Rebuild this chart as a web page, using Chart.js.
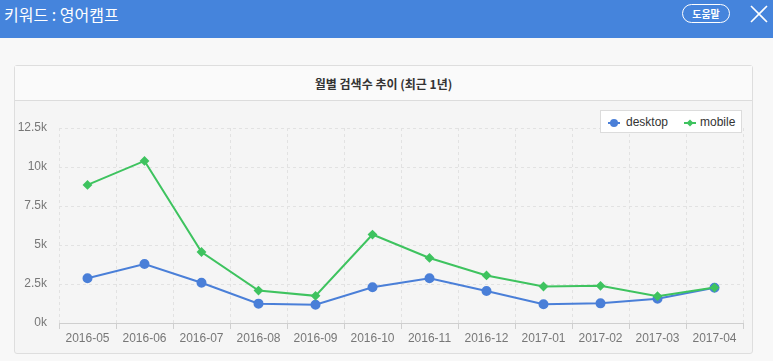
<!DOCTYPE html>
<html>
<head>
<meta charset="utf-8">
<script src="https://cdn.jsdelivr.net/npm/chart.js@4/dist/chart.umd.min.js"></script>
<style>
  html, body { margin:0; padding:0; width:773px; height:361px; overflow:hidden; background:#f8f8f8; font-family:"Noto Sans CJK KR","Liberation Sans",sans-serif; }
  #header { position:absolute; left:0; top:0; width:773px; height:38px; background:#4584dc; }
  #header .kw { position:absolute; left:4px; top:4px; color:#fff; font-size:16px; line-height:21px; }
  #header .help { position:absolute; left:682px; top:4px; width:46px; height:17px; border:1px solid #fff; border-radius:10px; color:#fff; font-size:10px; font-weight:bold; text-align:center; line-height:17px; }
  #header .close { position:absolute; left:748px; top:4px; width:22px; height:20px; }
  #panel { position:absolute; left:14px; top:65px; width:737px; height:287px; border:1px solid #dedede; border-radius:3px; background:#f5f5f5; }
  #ptitle { position:absolute; left:0; top:0; width:737px; height:34px; background:#fafafa; border-bottom:1px solid #dcdcdc; text-align:center; font-size:12px; font-weight:bold; color:#333; line-height:36px; }
  #cv { position:absolute; left:0; top:0; }
  #legend { position:absolute; left:600px; top:110px; width:140px; height:21px; background:#fff; border:1px solid #dcdcdc; font-family:"Liberation Sans",Arial,sans-serif; font-size:12px; color:#333; }
  #legend .item { position:absolute; top:4px; height:15px; line-height:15px; }
  #legend svg { position:absolute; left:0; top:2px; }
</style>
</head>
<body>
<div id="header">
  <div class="kw">키워드 : 영어캠프</div>
  <div class="help">도움말</div>
  <svg class="close" width="22" height="20"><path d="M3 2 L19 18 M19 2 L3 18" stroke="#fff" stroke-width="1.6" fill="none"/></svg>
</div>
<div id="panel"><div id="ptitle">월별 검색수 추이 (최근 1년)</div></div>
<canvas id="cv" width="773" height="361"></canvas>
<div id="legend"></div>
<script>
const months = ["2016-05","2016-06","2016-07","2016-08","2016-09","2016-10","2016-11","2016-12","2017-01","2017-02","2017-03","2017-04"];
const desktop = [2870, 3780, 2580, 1240, 1170, 2290, 2870, 2050, 1200, 1260, 1560, 2260];
const mobile  = [8850, 10390, 4550, 2080, 1740, 5670, 4170, 3050, 2340, 2380, 1720, 2270];
const seriesNames = ["desktop", "mobile"];
const seriesColors = ["#4a7fd8", "#3ec35f"];
const yMax = 12500;
const yStep = 2500;

const ctx = document.getElementById('cv').getContext('2d');
const chart = new Chart(ctx, {
  type: 'line',
  data: {
    labels: months,
    datasets: [
      { label: seriesNames[0], data: desktop, borderColor: seriesColors[0], backgroundColor: seriesColors[0],
        borderWidth: 2, pointStyle: 'circle', pointRadius: 4, pointHoverRadius: 4, tension: 0, order: 2 },
      { label: seriesNames[1], data: mobile, borderColor: seriesColors[1], backgroundColor: seriesColors[1],
        borderWidth: 2, pointStyle: 'rectRot', pointRadius: 3.5, pointHoverRadius: 3.5, tension: 0, order: 1 }
    ]
  },
  options: {
    responsive: false,
    animation: false,
    devicePixelRatio: 1,
    layout: { padding: { left: 14, right: 30, top: 128, bottom: 8 } },
    plugins: { legend: { display: false }, tooltip: { enabled: false }, title: { display: false } },
    scales: {
      x: {
        offset: true,
        grid: { offset: true, color: '#e2e2e2', lineWidth: 1, drawTicks: true, tickLength: 6, tickColor: '#cfcfcf', tickBorderDash: [] , borderDash: [3,3] },
        border: { display: true, color: '#cfcfcf', width: 1, dash: [3,3] },
        ticks: { color: '#777', font: { family: 'Liberation Sans', size: 12 }, padding: 2, maxRotation: 0, autoSkip: false },
        afterFit: s => { s.height = 30; }
      },
      y: {
        min: 0, max: yMax,
        grid: { color: '#e2e2e2', lineWidth: 1, drawTicks: false, borderDash: [3,3] },
        border: { display: false, dash: [3,3] },
        ticks: { stepSize: yStep, color: '#777', font: { family: 'Liberation Sans', size: 12 }, padding: 12,
          callback: v => (v / 1000) + 'k' },
        afterFit: s => { s.width = 45; }
      }
    }
  },
  plugins: [{
    id: 'solidAxis',
    afterDraw(c) {
      const a = c.chartArea, g = c.ctx;
      g.save(); g.strokeStyle = '#cfcfcf'; g.lineWidth = 1; g.setLineDash([]);
      g.beginPath(); g.moveTo(a.left, Math.round(a.bottom) + 0.5); g.lineTo(a.right, Math.round(a.bottom) + 0.5); g.stroke();
      g.restore();
    }
  }]
});

// legend
const lg = document.getElementById('legend');
const lx = [7, 83];
seriesNames.forEach((n, i) => {
  const d = document.createElement('div');
  d.className = 'item';
  d.style.left = lx[i] + 'px';
  d.style.paddingLeft = (i === 0 ? 18 : 16) + 'px';
  const mark = i === 0
    ? `<circle cx="6" cy="6" r="4" fill="${seriesColors[i]}"/>`
    : `<path d="M6 2.5 L9.5 6 L6 9.5 L2.5 6 Z" fill="${seriesColors[i]}"/>`;
  d.innerHTML = `<svg width="12" height="12"><line x1="0" y1="6" x2="12" y2="6" stroke="${seriesColors[i]}" stroke-width="2"/>${mark}</svg>${n}`;
  lg.appendChild(d);
});
</script>
</body>
</html>
